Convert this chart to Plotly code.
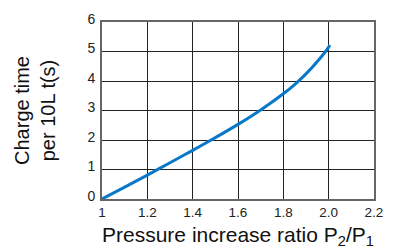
import plotly.graph_objects as go

pressure_ratio = [1.0, 1.1, 1.2, 1.3, 1.4, 1.5, 1.6, 1.7, 1.8, 1.85, 1.9, 1.95, 2.0, 2.005]
charge_time = [0.0, 0.40, 0.81, 1.23, 1.65, 2.08, 2.53, 3.02, 3.57, 3.88, 4.24, 4.66, 5.15, 5.22]

x_tick_vals = [1.0, 1.2, 1.4, 1.6, 1.8, 2.0, 2.2]
x_tick_text = ["1", "1.2", "1.4", "1.6", "1.8", "2.0", "2.2"]
y_tick_vals = [0, 1, 2, 3, 4, 5, 6]

fig = go.Figure()
fig.add_trace(go.Scatter(
    x=pressure_ratio, y=charge_time, mode="lines",
    line=dict(color="#0a78c8", width=3, shape="spline", smoothing=0.6),
    showlegend=False, hoverinfo="skip"))

font = "Liberation Sans, Arial, sans-serif"
fig.update_layout(
    width=387, height=244,
    margin=dict(l=94, r=21, t=3, b=53),
    paper_bgcolor="white", plot_bgcolor="white",
    font=dict(family=font, color="#222"),
    xaxis=dict(range=[1.0, 2.2], tickvals=x_tick_vals, ticktext=x_tick_text,
               showgrid=True, gridcolor="#222", gridwidth=1,
               showline=True, linecolor="#666", linewidth=2, mirror=True,
               zeroline=False, ticks="", tickfont=dict(size=13.5, color="#222"),
               ticklabeloverflow="allow",
               title=dict(text="Pressure increase ratio P<sub>2</sub>/P<sub>1</sub>",
                          font=dict(size=21, color="#111"), standoff=8)),
    yaxis=dict(range=[0, 6], tickvals=y_tick_vals,
               showgrid=True, gridcolor="#222", gridwidth=1,
               showline=True, linecolor="#666", linewidth=2, mirror=True,
               zeroline=False, ticks="", tickfont=dict(size=14, color="#222"),
               ticklabeloverflow="allow", ticklabelshift=-3, ticklabelstandoff=2,
               title=dict(text="Charge time<br>per 10L t(s)",
                          font=dict(size=20, color="#111"), standoff=26)),
)

fig.write_html("out.html")
